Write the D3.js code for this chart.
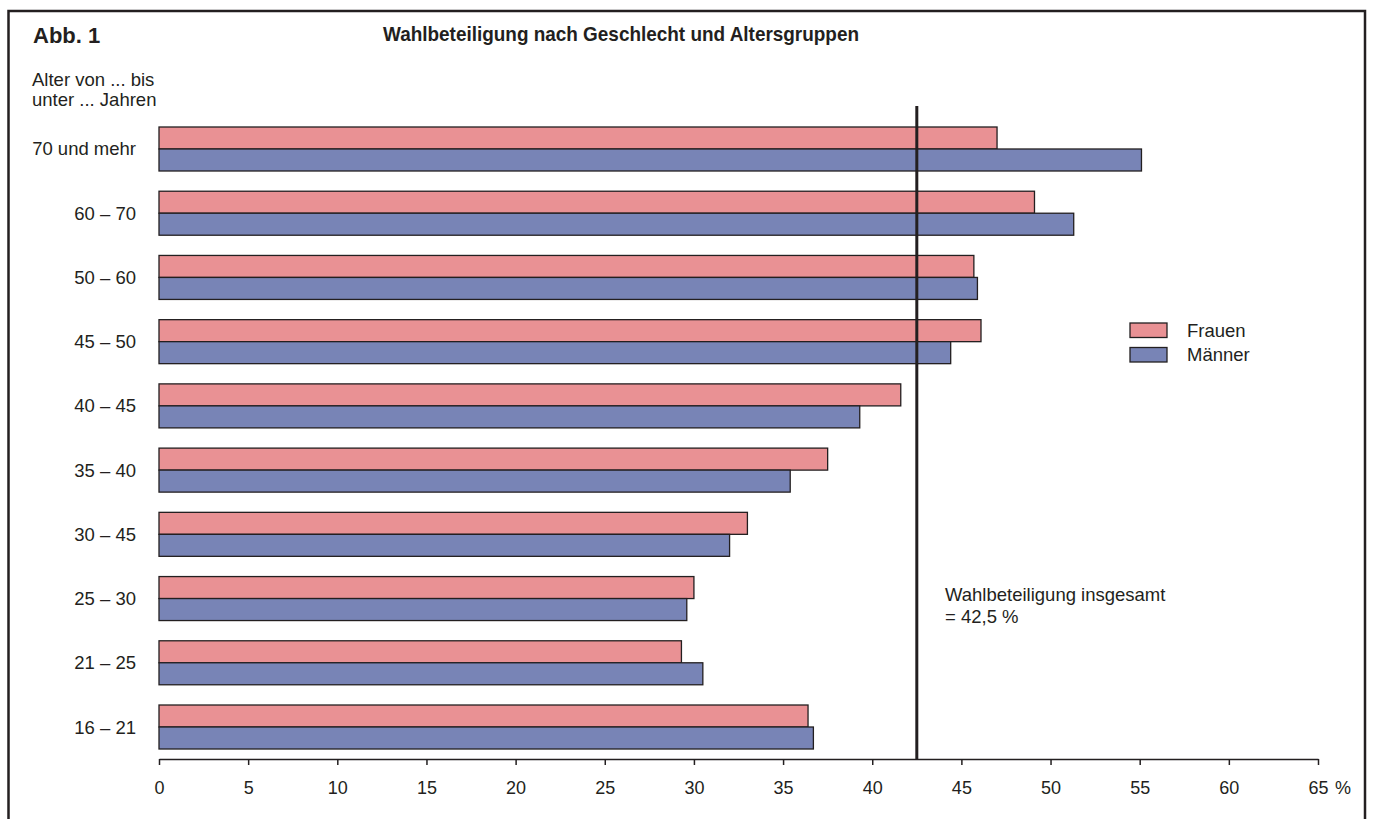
<!DOCTYPE html>
<html>
<head>
<meta charset="utf-8">
<script src="https://cdn.jsdelivr.net/npm/d3@7"></script>
<style>
  body { margin: 0; background: #fff; }
  svg text { font-family: "Liberation Sans", Arial, Helvetica, sans-serif; fill: #231f20; }
</style>
</head>
<body>
<div id="chart"></div>
<script>
    // data
    const categories = ["70 und mehr", "60 – 70", "50 – 60", "45 – 50", "40 – 45", "35 – 40", "30 – 45", "25 – 30", "21 – 25", "16 – 21"];
    const series = ["Frauen", "Männer"];
    const frauen = [47.0, 49.1, 45.7, 46.1, 41.6, 37.5, 33.0, 30.0, 29.3, 36.4];
    const maenner = [55.1, 51.3, 45.9, 44.4, 39.3, 35.4, 32.0, 29.6, 30.5, 36.7];
    const xTicks = [0, 5, 10, 15, 20, 25, 30, 35, 40, 45, 50, 55, 60, 65];
    const gesamt = 42.5;
    const colors = { "Frauen": "#e99194", "Männer": "#7884b6" };
    const ink = "#231f20";

    const W = 1373, H = 819;
    const fs = "18.5px";
    const svg = d3.select("#chart").append("svg")
        .attr("width", W)
        .attr("height", H);

    // outer frame
    svg.append("rect")
        .attr("x", 8.5).attr("y", 11)
        .attr("width", 1356.5).attr("height", 830)
        .attr("fill", "none")
        .attr("stroke", ink)
        .attr("stroke-width", 2.5);

    const x = d3.scaleLinear().domain([0, 65]).range([159, 1318]);
    const y = d3.scaleBand()
        .domain(categories)
        .range([127, 749])
        .paddingInner(0.315)
        .paddingOuter(0);
    const ySub = d3.scaleBand().domain(series).range([0, y.bandwidth()]);

    const rows = categories.map((c, i) => ({ cat: c, Frauen: frauen[i], "Männer": maenner[i] }));

    // bars
    const groups = svg.selectAll(".grp")
        .data(rows)
        .enter()
        .append("g")
            .attr("class", "grp")
            .attr("transform", d => `translate(0,${y(d.cat)})`);

    groups.selectAll("rect")
        .data(d => series.map(s => ({ s, v: d[s] })))
        .enter()
        .append("rect")
            .attr("x", x(0))
            .attr("y", d => ySub(d.s))
            .attr("width", d => x(d.v) - x(0))
            .attr("height", ySub.bandwidth())
            .attr("fill", d => colors[d.s])
            .attr("stroke", ink)
            .attr("stroke-width", 1.3);

    // category labels
    svg.selectAll(".cat")
        .data(categories)
        .enter()
        .append("text")
            .attr("class", "cat")
            .attr("x", 136)
            .attr("y", d => y(d) + y.bandwidth() / 2 + 6.5)
            .attr("text-anchor", "end")
            .style("font-size", fs)
            .text(d => d);

    // x axis
    const axis = svg.append("g")
        .attr("transform", "translate(0,759)")
        .call(d3.axisBottom(x).tickValues(xTicks).tickSize(6).tickSizeOuter(0));
    axis.select(".domain").attr("stroke", ink).attr("stroke-width", 1.5);
    axis.selectAll(".tick line").attr("stroke", ink).attr("stroke-width", 1.5);
    axis.selectAll(".tick text")
        .attr("y", 35)
        .attr("dy", null)
        .style("font-size", "18px")
        .style("font-family", "'Liberation Sans', Arial, sans-serif")
        .attr("fill", ink);
    svg.append("text")
        .attr("x", x(65) + 17)
        .attr("y", 794)
        .style("font-size", "18px")
        .text("%");

    // overall turnout line
    svg.append("line")
        .attr("x1", x(gesamt)).attr("x2", x(gesamt))
        .attr("y1", 106).attr("y2", 759)
        .attr("stroke", ink)
        .attr("stroke-width", 3);

    svg.append("text")
        .attr("x", 945)
        .attr("y", 601)
        .style("font-size", fs)
        .text("Wahlbeteiligung insgesamt");
    svg.append("text")
        .attr("x", 945)
        .attr("y", 623)
        .style("font-size", fs)
        .text(`= ${String(gesamt).replace(".", ",")} %`);

    // legend
    const legend = svg.append("g").attr("transform", "translate(1130,323)");
    series.forEach((s, i) => {
        legend.append("rect")
            .attr("x", 0).attr("y", i * 24.5)
            .attr("width", 37).attr("height", 14.5)
            .attr("fill", colors[s])
            .attr("stroke", ink)
            .attr("stroke-width", 1.3);
        legend.append("text")
            .attr("x", 57).attr("y", i * 24.5 + 13.5)
            .style("font-size", fs)
            .text(s);
    });

    // titles
    svg.append("text")
        .attr("x", 33).attr("y", 43)
        .style("font-size", "22px")
        .style("font-weight", "bold")
        .text("Abb. 1");
    svg.append("text")
        .attr("x", 383).attr("y", 41)
        .attr("textLength", 476)
        .attr("lengthAdjust", "spacingAndGlyphs")
        .style("font-size", "21px")
        .style("font-weight", "bold")
        .text("Wahlbeteiligung nach Geschlecht und Altersgruppen");

    // y axis caption
    svg.append("text")
        .attr("x", 32).attr("y", 86)
        .style("font-size", fs)
        .text("Alter von ... bis");
    svg.append("text")
        .attr("x", 32).attr("y", 106)
        .style("font-size", fs)
        .text("unter ... Jahren");
</script>
</body>
</html>
